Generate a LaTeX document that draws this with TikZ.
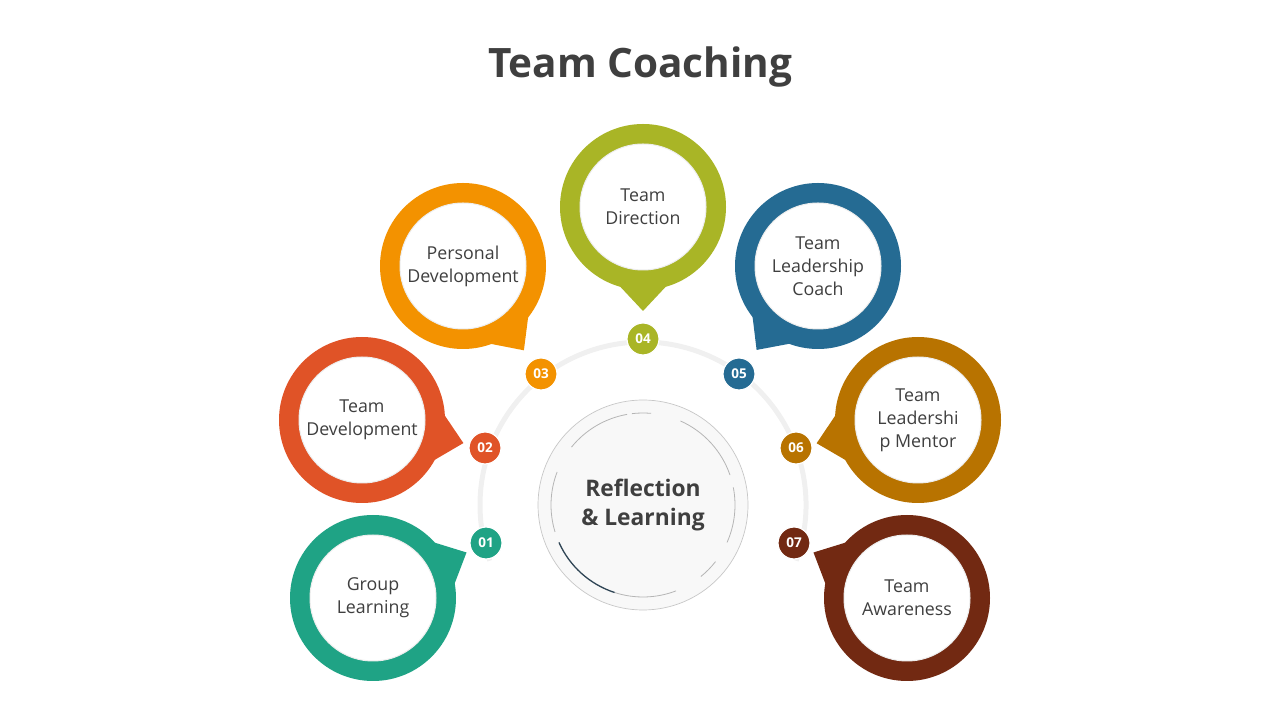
\documentclass[tikz,border=0pt]{standalone}
\usepackage{fontspec}
\setmainfont{Open Sans}
\usepackage{tikz}
\usetikzlibrary{calc}
\definecolor{cTeal}{HTML}{1FA385}
\definecolor{cRedOr}{HTML}{E05327}
\definecolor{cOrange}{HTML}{F39200}
\definecolor{cOlive}{HTML}{A9B526}
\definecolor{cBlue}{HTML}{256B93}
\definecolor{cGold}{HTML}{B87300}
\definecolor{cBrown}{HTML}{722912}
\definecolor{cText}{HTML}{3F3F3F}
\definecolor{cHub}{HTML}{F8F8F8}
\definecolor{cRing}{HTML}{B5B5B5}
\definecolor{cShade}{HTML}{2E4454}

\begin{document}
\begin{tikzpicture}[x=1pt, y=1pt,
  every node/.style={font=\fontsize{17.8}{23}\selectfont, align=center, text=cText},
  inner/.style={circle, fill=white, minimum size=126pt, inner sep=0pt,
    draw=black!7, line width=1pt},
  num/.style={circle, minimum size=32pt, inner sep=0pt, text=white,
    font=\bfseries\fontsize{13.5}{13.5}\selectfont, draw=white, line width=1.2pt},
  track/.style={draw=black!6, line width=5pt},
  hub/.style={circle, fill=cHub, draw=black!22, line width=0.7pt,
    minimum size=210pt, inner sep=0pt, font=\bfseries\fontsize{22.8}{29}\selectfont},
  ring/.style={draw=cRing, line width=0.8pt}]

  \useasboundingbox (0,0) rectangle (1280,720);

  \node[font=\bfseries\fontsize{40.5}{48}\selectfont] (title) at (640,653) {Team Coaching};

  % track and hub
  \coordinate (ctr) at (643,215);
  \draw[track] ($(ctr)+(-20:163pt)$) arc[start angle=-20, end angle=200, radius=163pt];
  \node[hub] (hub) at (ctr) {Reflection\\\& Learning};
  \foreach \a/\b in {100/141, 85/97, 19/66, -24/11, -51/-38, -108/-69, 159/197}
    \draw[ring] ($(hub)+(\a:92pt)$) arc[start angle=\a, end angle=\b, radius=92pt];
  \draw[draw=cShade, line width=1.3pt] ($(hub)+(204:92pt)$)
    arc[start angle=204, end angle=252, radius=92pt];

  % bubbles
  \foreach \n/\bx/\by/\mx/\my/\col/\txt in {
    1/373/122/486/177/cTeal/{Group\\Learning},
    2/362/300/485/272/cRedOr/{Team\\Development},
    3/463/454/541/346/cOrange/{Personal\\Development},
    4/643/513/643/381/cOlive/{Team\\Direction},
    5/818/454/739/346/cBlue/{Team\\Leadership\\Coach},
    6/918/300/796/272/cGold/{Team\\Leadershi\\p Mentor},
    7/907/122/794/177/cBrown/{Team\\Awareness}}
  {
    \coordinate (b\n) at (\bx,\by);
    \node[num, fill=\col] (m\n) at (\mx,\my) {0\n};
    \fill[\col] (b\n) circle (83pt);
    \fill[\col] ($(b\n)!82pt!17:(m\n)$) -- ($(b\n)!104pt!(m\n)$)
      -- ($(b\n)!82pt!-17:(m\n)$) -- cycle;
    \node[inner] (t\n) at (b\n) {\txt};
  }
\end{tikzpicture}
\end{document}
